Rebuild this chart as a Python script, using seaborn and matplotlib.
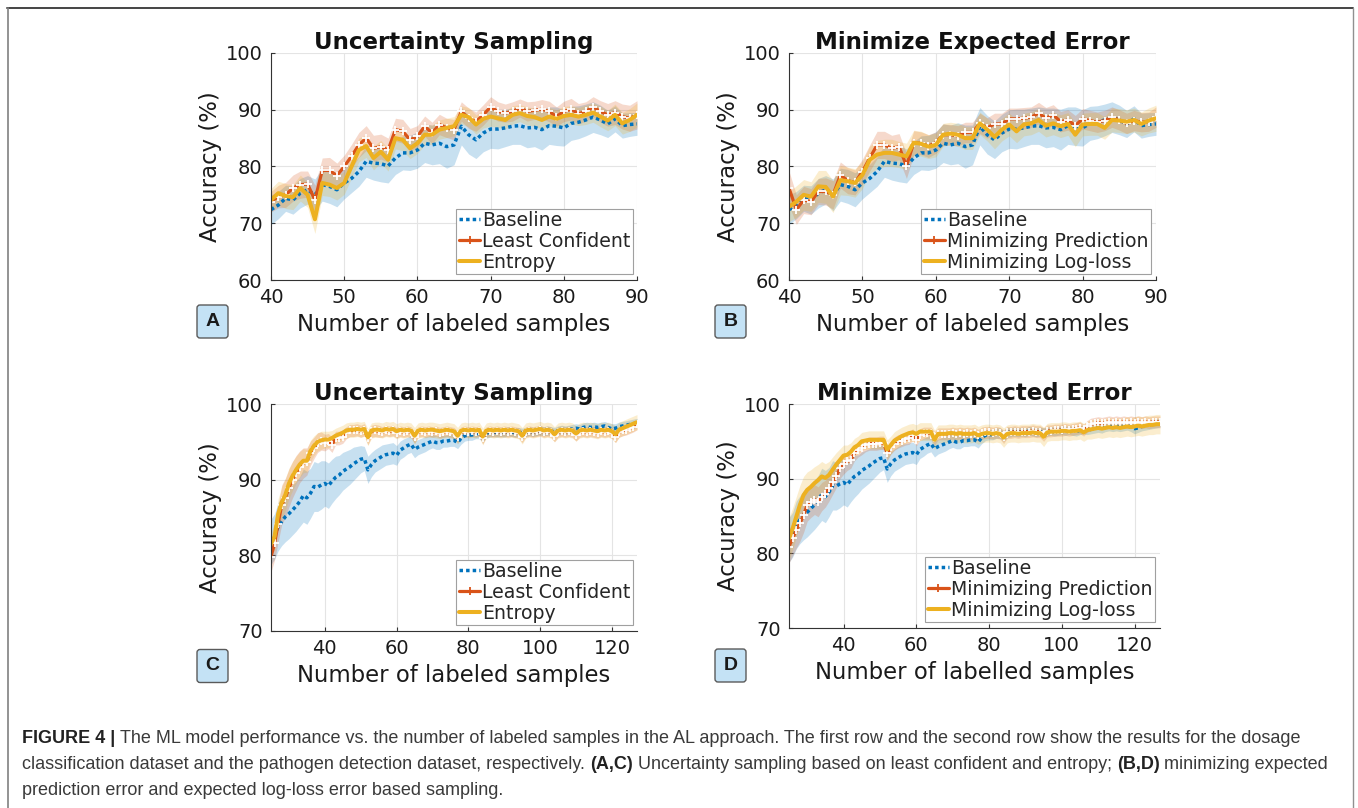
import numpy as np
import matplotlib
matplotlib.use("Agg")
import matplotlib.pyplot as plt
import seaborn as sns
from matplotlib.patches import FancyBboxPatch
from matplotlib.lines import Line2D
from matplotlib.transforms import IdentityTransform

# ---------------- data ----------------
X_AB = list(range(40, 91))
X_CD = list(range(25, 128))

# dosage dataset (panels A, B)
BASE_AB = [72.4, 73.2, 74.4, 74.1, 75.3, 75.9, 75.0, 76.8, 76.5, 75.9,
           77.1, 77.9, 79.1, 80.9, 80.6, 80.5, 80.1, 81.5, 82.4, 82.4,
           82.9, 84.1, 83.8, 84.1, 83.5, 83.8, 87.1, 85.6, 84.7, 85.9,
           86.6, 86.6, 86.8, 87.1, 87.2, 86.8, 86.9, 86.5, 87.2, 87.1,
           86.8, 87.6, 87.8, 88.2, 88.7, 88.2, 87.5, 88.4, 87.2, 87.4,
           87.5]
BASE_AB_SD = [2.6, 2.4, 2.3, 2.5, 2.6, 2.5, 2.8, 2.9, 3.0, 3.0,
              2.8, 2.5, 2.6, 2.8, 3.0, 3.2, 3.0, 2.9, 3.0, 3.1,
              3.2, 3.4, 3.5, 3.6, 3.8, 3.5, 3.3, 3.4, 3.3, 3.3,
              3.4, 3.5, 3.3, 3.2, 3.3, 3.5, 3.4, 3.6, 3.3, 3.4,
              3.2, 3.0, 2.9, 2.8, 2.7, 2.6, 2.4, 2.3, 2.2, 2.1,
              2.0]
LC_A = [73.8, 74.7, 75.0, 76.2, 76.8, 76.9, 74.1, 79.3, 79.3, 78.4,
        80.0, 81.8, 83.8, 85.0, 83.2, 83.5, 82.9, 86.5, 86.2, 84.7,
        85.3, 87.1, 85.9, 87.4, 86.8, 86.5, 89.7, 88.5, 87.9, 89.1,
        90.5, 89.7, 89.4, 89.7, 90.3, 89.7, 89.9, 90.1, 89.7, 88.8,
        89.7, 90.1, 89.3, 89.7, 90.5, 89.7, 89.1, 89.5, 88.8, 88.5,
        89.1]
LC_A_SD = [1.8, 2.0, 2.2, 2.3, 2.4, 2.3, 2.6, 2.2, 2.3, 2.2,
           2.0, 2.1, 2.2, 2.2, 2.3, 2.2, 2.1, 2.0, 2.1, 2.0,
           1.9, 1.8, 1.9, 1.8, 1.7, 1.8, 1.7, 1.8, 1.7, 1.8,
           1.8, 1.7, 1.6, 1.7, 1.6, 1.7, 1.6, 1.7, 1.8, 1.7,
           1.8, 1.9, 1.8, 1.7, 1.8, 1.9, 2.0, 2.1, 2.2, 2.3,
           2.5]
ENT_A = [74.1, 75.3, 74.8, 74.6, 76.2, 75.0, 70.7, 77.1, 76.8, 76.2,
         77.1, 80.0, 82.9, 83.6, 81.5, 82.6, 81.2, 85.0, 84.7, 83.2,
         84.1, 85.6, 85.6, 86.5, 86.8, 87.1, 89.1, 88.7, 87.4, 88.4,
         88.8, 88.5, 88.2, 89.1, 89.4, 88.9, 88.7, 88.2, 88.8, 88.4,
         88.9, 89.1, 88.8, 89.1, 89.5, 88.8, 88.1, 89.1, 87.6, 88.2,
         89.1]
ENT_A_SD = [2.0, 2.1, 2.2, 2.2, 2.3, 2.2, 2.5, 2.2, 2.1, 2.1,
            2.0, 2.0, 2.1, 2.0, 2.1, 2.0, 2.0, 1.9, 1.9, 1.8,
            1.8, 1.8, 1.7, 1.7, 1.7, 1.7, 1.6, 1.7, 1.7, 1.6,
            1.7, 1.6, 1.6, 1.6, 1.5, 1.6, 1.6, 1.6, 1.6, 1.6,
            1.7, 1.6, 1.6, 1.7, 1.7, 1.8, 1.8, 1.9, 1.9, 2.0,
            2.1]
MP_B = [76.2, 72.4, 74.1, 73.8, 75.6, 75.6, 75.0, 78.5, 77.5, 77.2,
        79.1, 81.5, 83.8, 83.8, 83.2, 83.5, 80.1, 84.2, 84.1, 83.6,
        84.2, 85.6, 85.6, 85.4, 86.0, 86.0, 87.6, 86.8, 87.5, 87.5,
        88.4, 88.4, 88.5, 88.7, 89.4, 88.5, 89.1, 87.9, 88.2, 87.2,
        88.4, 88.1, 87.8, 88.1, 88.7, 88.2, 87.6, 88.1, 87.8, 87.9,
        88.7]
MP_B_SD = [3.0, 2.6, 2.4, 2.3, 2.3, 2.4, 2.5, 2.3, 2.3, 2.2,
           2.2, 2.3, 2.4, 2.4, 2.3, 2.3, 2.2, 2.1, 2.0, 2.0,
           1.9, 1.9, 1.8, 1.8, 1.8, 1.8, 1.8, 1.8, 1.9, 1.9,
           1.9, 1.9, 1.9, 1.8, 1.9, 1.9, 1.8, 1.8, 1.8, 1.8,
           1.8, 1.8, 1.8, 1.8, 1.8, 1.8, 1.8, 1.8, 1.7, 1.7,
           1.8]
LL_B = [72.9, 73.8, 75.0, 74.7, 76.5, 76.4, 74.7, 77.6, 77.4, 77.1,
        78.5, 81.2, 82.1, 82.4, 82.4, 82.1, 81.8, 84.2, 84.0, 83.5,
        83.8, 85.6, 85.8, 85.6, 85.0, 85.0, 87.6, 86.5, 85.2, 86.5,
        87.4, 86.2, 87.4, 87.6, 88.2, 87.2, 87.6, 87.1, 87.5, 85.6,
        87.4, 87.5, 87.5, 86.8, 88.2, 88.1, 87.9, 88.2, 87.5, 88.1,
        88.5]
LL_B_SD = [2.6, 2.8, 2.7, 2.6, 2.8, 2.9, 2.8, 2.6, 2.5, 2.5,
           2.4, 2.4, 2.5, 2.4, 2.4, 2.3, 2.3, 2.2, 2.2, 2.1,
           2.1, 2.0, 2.0, 2.0, 2.0, 2.0, 2.0, 2.0, 2.1, 2.0,
           2.0, 2.0, 2.0, 2.0, 2.0, 2.0, 2.0, 2.0, 2.0, 2.1,
           2.0, 2.0, 2.0, 2.0, 2.1, 2.1, 2.1, 2.1, 2.1, 2.2,
           2.3]

# pathogen dataset (panels C, D)
BASE_CD = [81.8, 82.5, 83.8, 84.5, 85.1, 85.5, 86.0, 86.5, 87.1, 87.9,
           87.6, 88.2, 89.1, 89.0, 89.3, 89.5, 89.2, 89.8, 90.3, 90.6,
           91.1, 91.4, 91.7, 92.1, 92.4, 92.7, 92.8, 91.3, 92.0, 92.5,
           92.8, 93.1, 93.3, 93.4, 93.5, 93.2, 93.9, 94.2, 94.5, 94.7,
           94.0, 94.3, 94.5, 94.7, 94.9, 95.1, 94.9, 94.9, 95.1, 95.1,
           95.2, 95.2, 94.9, 95.5, 95.8, 95.9, 95.9, 96.1, 96.1, 95.7,
           96.2, 96.2, 96.3, 96.2, 96.3, 96.2, 96.4, 96.3, 96.2, 96.3,
           96.1, 96.3, 96.4, 96.3, 96.4, 96.5, 96.4, 96.5, 96.4, 96.3,
           96.5, 96.6, 96.5, 96.6, 96.7, 96.8, 96.7, 96.9, 97.0, 96.9,
           97.0, 96.9, 97.0, 97.1, 96.9, 96.7, 96.8, 97.0, 97.1, 97.2,
           97.3, 97.4, 97.5]
BASE_CD_SD = [3.0, 3.0, 3.2, 3.2, 3.3, 3.3, 3.3, 3.3, 3.3, 3.5,
              3.5, 3.3, 3.3, 3.2, 3.2, 3.0, 3.0, 2.9, 2.8, 2.6,
              2.5, 2.4, 2.3, 2.2, 2.0, 1.8, 1.6, 1.8, 1.6, 1.5,
              1.5, 1.5, 1.4, 1.4, 1.4, 1.3, 1.2, 1.2, 1.1, 1.1,
              1.1, 1.0, 1.0, 1.0, 0.9, 0.9, 0.9, 0.9, 0.8, 0.8,
              0.8, 0.8, 0.8, 0.8, 0.7, 0.7, 0.7, 0.7, 0.7, 0.7,
              0.7, 0.6, 0.6, 0.6, 0.6, 0.6, 0.6, 0.6, 0.6, 0.6,
              0.7, 0.6, 0.6, 0.6, 0.6, 0.6, 0.6, 0.6, 0.6, 0.6,
              0.6, 0.6, 0.6, 0.6, 0.6, 0.6, 0.6, 0.6, 0.6, 0.6,
              0.6, 0.6, 0.6, 0.6, 0.6, 0.7, 0.6, 0.6, 0.6, 0.6,
              0.6, 0.6, 0.6]
LC_C = [79.8, 81.6, 84.2, 86.7, 87.6, 88.9, 90.0, 90.9, 91.7, 92.2,
        92.4, 93.5, 94.2, 94.9, 95.1, 94.9, 95.1, 94.6, 95.5, 95.5,
        95.7, 96.2, 96.5, 96.5, 96.6, 96.4, 96.6, 95.5, 96.4, 96.5,
        96.4, 96.3, 96.5, 96.4, 96.5, 96.2, 96.4, 96.3, 96.4, 96.3,
        95.6, 96.3, 96.4, 96.3, 96.4, 96.3, 96.4, 96.2, 96.3, 96.4,
        96.3, 96.2, 95.6, 96.3, 96.4, 96.3, 96.4, 96.3, 96.4, 95.5,
        96.3, 96.4, 96.3, 96.4, 96.3, 96.4, 96.3, 96.4, 96.3, 96.2,
        95.7, 96.3, 96.4, 96.3, 96.4, 96.5, 96.3, 96.4, 96.3, 95.8,
        96.3, 96.4, 96.3, 96.4, 96.3, 95.9, 96.3, 96.4, 96.3, 96.4,
        96.3, 96.2, 96.4, 96.3, 96.4, 96.2, 95.7, 96.3, 96.5, 96.6,
        96.8, 97.0, 97.3]
LC_C_SD = [2.0, 2.2, 2.4, 2.6, 2.6, 2.5, 2.4, 2.3, 2.1, 2.0,
           1.8, 1.6, 1.4, 1.3, 1.2, 1.1, 1.0, 1.0, 0.9, 0.9,
           0.9, 0.8, 0.8, 0.8, 0.8, 0.8, 0.8, 0.9, 0.8, 0.8,
           0.8, 0.7, 0.7, 0.7, 0.7, 0.7, 0.7, 0.7, 0.7, 0.7,
           0.8, 0.7, 0.7, 0.7, 0.7, 0.7, 0.7, 0.7, 0.7, 0.7,
           0.7, 0.7, 0.8, 0.7, 0.7, 0.7, 0.7, 0.7, 0.7, 0.8,
           0.7, 0.7, 0.7, 0.7, 0.7, 0.7, 0.7, 0.7, 0.7, 0.7,
           0.8, 0.7, 0.7, 0.7, 0.7, 0.7, 0.7, 0.7, 0.7, 0.8,
           0.7, 0.7, 0.7, 0.7, 0.7, 0.8, 0.7, 0.7, 0.7, 0.7,
           0.7, 0.7, 0.7, 0.7, 0.7, 0.7, 0.8, 0.7, 0.7, 0.7,
           0.7, 0.7, 0.7]
ENT_C = [81.5, 82.5, 85.5, 87.0, 88.0, 89.5, 90.5, 91.3, 92.0, 92.5,
         92.5, 93.8, 94.5, 95.0, 95.2, 95.3, 95.3, 95.5, 95.8, 96.0,
         96.2, 96.5, 96.6, 96.6, 96.7, 96.6, 96.7, 95.6, 96.5, 96.6,
         96.6, 96.5, 96.7, 96.6, 96.7, 96.4, 96.6, 96.5, 96.6, 96.5,
         95.8, 96.5, 96.6, 96.5, 96.6, 96.6, 96.5, 96.4, 96.5, 96.6,
         96.5, 96.4, 95.8, 96.5, 96.6, 96.5, 96.6, 96.5, 96.6, 95.7,
         96.5, 96.6, 96.5, 96.6, 96.5, 96.6, 96.5, 96.6, 96.5, 96.4,
         95.8, 96.5, 96.6, 96.5, 96.6, 96.7, 96.5, 96.6, 96.5, 96.0,
         96.5, 96.6, 96.5, 96.6, 96.5, 96.1, 96.5, 96.6, 96.5, 96.6,
         96.5, 96.4, 96.6, 96.5, 96.6, 96.4, 96.0, 96.6, 96.8, 97.0,
         97.2, 97.4, 97.6]
ENT_C_SD = [1.5, 1.8, 2.0, 2.1, 2.1, 2.0, 1.9, 1.8, 1.7, 1.6,
            1.5, 1.4, 1.3, 1.2, 1.2, 1.1, 1.1, 1.0, 1.0, 1.0,
            1.0, 1.0, 1.0, 1.0, 1.0, 1.0, 1.0, 1.1, 1.0, 1.0,
            1.0, 1.0, 1.0, 1.0, 1.0, 1.0, 1.0, 1.0, 1.0, 1.0,
            1.1, 1.0, 1.0, 1.0, 1.0, 1.0, 1.0, 1.0, 1.0, 1.0,
            1.0, 1.0, 1.1, 1.0, 1.0, 1.0, 1.0, 1.0, 1.0, 1.1,
            1.0, 1.0, 1.0, 1.0, 1.0, 1.0, 1.0, 1.0, 1.0, 1.0,
            1.1, 1.0, 1.0, 1.0, 1.0, 1.0, 1.0, 1.0, 1.0, 1.0,
            1.0, 1.0, 1.0, 1.0, 1.0, 1.0, 1.0, 1.0, 1.0, 1.0,
            1.0, 1.0, 1.0, 1.0, 1.0, 1.0, 1.1, 1.0, 1.0, 1.0,
            1.0, 1.0, 1.0]
MP_D = [80.9, 82.0, 83.1, 84.0, 85.1, 86.5, 86.9, 87.2, 86.9, 87.6,
        88.0, 88.7, 89.5, 90.3, 91.4, 91.9, 92.3, 92.5, 93.4, 93.9,
        94.1, 94.5, 94.7, 94.7, 94.7, 94.8, 94.8, 93.4, 94.2, 94.7,
        95.0, 95.1, 95.3, 95.4, 95.9, 95.2, 95.9, 96.1, 96.1, 96.1,
        95.4, 96.0, 96.0, 96.0, 96.0, 96.1, 96.0, 96.1, 96.0, 96.1,
        96.0, 96.1, 95.8, 96.1, 96.2, 96.2, 96.1, 96.2, 96.1, 95.6,
        96.2, 96.2, 96.3, 96.2, 96.3, 96.3, 96.3, 96.4, 96.3, 96.3,
        95.9, 96.4, 96.4, 96.5, 96.5, 96.5, 96.6, 96.5, 96.6, 96.7,
        96.8, 96.5, 97.0, 97.3, 97.4, 97.5, 97.4, 97.5, 97.6, 97.5,
        97.6, 97.5, 97.6, 97.5, 97.6, 97.5, 97.6, 97.5, 97.6, 97.5,
        97.6, 97.6, 97.6]
MP_D_SD = [2.2, 2.3, 2.4, 2.4, 2.3, 2.2, 2.1, 2.0, 2.0, 1.9,
           1.8, 1.7, 1.6, 1.5, 1.4, 1.3, 1.2, 1.1, 1.0, 1.0,
           0.9, 0.9, 0.9, 0.9, 0.9, 0.9, 0.9, 1.0, 0.9, 0.9,
           0.9, 0.8, 0.8, 0.8, 0.8, 0.8, 0.8, 0.8, 0.8, 0.8,
           0.9, 0.8, 0.8, 0.8, 0.8, 0.8, 0.8, 0.8, 0.8, 0.8,
           0.8, 0.8, 0.8, 0.8, 0.8, 0.8, 0.8, 0.8, 0.8, 0.9,
           0.8, 0.8, 0.8, 0.8, 0.8, 0.8, 0.8, 0.8, 0.8, 0.8,
           0.9, 0.8, 0.8, 0.8, 0.8, 0.8, 0.8, 0.8, 0.8, 0.8,
           0.8, 0.8, 0.8, 0.8, 0.8, 0.8, 0.8, 0.8, 0.8, 0.8,
           0.8, 0.8, 0.8, 0.8, 0.8, 0.8, 0.8, 0.8, 0.8, 0.8,
           0.8, 0.8, 0.8]
LL_D = [82.0, 83.3, 84.9, 86.5, 87.8, 88.5, 88.9, 89.4, 89.8, 90.3,
        90.1, 90.5, 91.2, 91.9, 92.5, 93.1, 93.2, 93.6, 94.2, 94.5,
        95.0, 95.1, 95.2, 95.2, 95.2, 95.2, 95.2, 93.9, 94.5, 95.1,
        95.4, 95.7, 95.9, 96.1, 96.2, 96.0, 96.3, 96.3, 96.3, 96.3,
        95.2, 96.0, 96.0, 96.0, 96.1, 96.1, 96.0, 96.1, 96.0, 96.0,
        96.0, 96.1, 95.8, 96.0, 96.1, 96.1, 96.0, 96.1, 96.0, 95.5,
        96.0, 96.1, 96.1, 96.0, 96.1, 96.1, 96.1, 96.2, 96.1, 96.1,
        95.6, 96.2, 96.3, 96.3, 96.3, 96.4, 96.4, 96.3, 96.4, 96.4,
        96.5, 96.2, 96.5, 96.6, 96.7, 96.8, 96.7, 96.8, 96.9, 96.8,
        96.9, 96.8, 96.9, 97.0, 96.9, 97.0, 97.1, 97.0, 97.1, 97.2,
        97.2, 97.3, 97.3]
LL_D_SD = [2.8, 2.8, 2.7, 2.6, 2.5, 2.4, 2.3, 2.2, 2.1, 2.0,
           1.9, 1.8, 1.7, 1.6, 1.5, 1.4, 1.3, 1.2, 1.2, 1.2,
           1.2, 1.2, 1.2, 1.2, 1.2, 1.2, 1.2, 1.3, 1.2, 1.2,
           1.2, 1.2, 1.2, 1.2, 1.2, 1.2, 1.2, 1.2, 1.2, 1.2,
           1.3, 1.2, 1.2, 1.2, 1.2, 1.2, 1.2, 1.2, 1.2, 1.2,
           1.2, 1.2, 1.2, 1.2, 1.2, 1.2, 1.2, 1.2, 1.2, 1.3,
           1.2, 1.2, 1.2, 1.2, 1.2, 1.2, 1.2, 1.2, 1.2, 1.2,
           1.3, 1.2, 1.2, 1.2, 1.2, 1.2, 1.2, 1.2, 1.2, 1.2,
           1.2, 1.2, 1.2, 1.3, 1.3, 1.3, 1.3, 1.3, 1.3, 1.3,
           1.3, 1.3, 1.3, 1.3, 1.3, 1.3, 1.3, 1.3, 1.3, 1.3,
           1.3, 1.3, 1.3]

TITLES = ["Uncertainty Sampling", "Minimize Expected Error",
          "Uncertainty Sampling", "Minimize Expected Error"]
XLABELS = ["Number of labeled samples", "Number of labeled samples",
           "Number of labeled samples", "Number of labelled samples"]
LEG_US = ["Baseline", "Least Confident", "Entropy"]
LEG_MEE = ["Baseline", "Minimizing Prediction", "Minimizing Log-loss"]
PANEL_LETTERS = ["A", "B", "C", "D"]

CAPTION = [
    [("FIGURE 4 |", True),
     ("The ML model performance vs. the number of labeled samples in the AL approach. "
      "The first row and the second row show the results for the dosage", False)],
    [("classification dataset and the pathogen detection dataset, respectively.", False),
     ("(A,C)", True),
     ("Uncertainty sampling based on least confident and entropy;", False),
     ("(B,D)", True),
     ("minimizing expected", False)],
    [("prediction error and expected log-loss error based sampling.", False)],
]

# ---------------- style ----------------
sns.set_style("white")
plt.rcParams['font.family'] = ['DejaVu Sans']

W, H = 1358, 808
fig = plt.figure(figsize=(W / 100, H / 100), dpi=100)
fig.patch.set_facecolor('white')

COLORS = ['#0072BD', '#D95319', '#EDB120']
STYLES = [
    dict(linewidth=2.5, linestyle=(0, (1, 0.9))),
    dict(linewidth=2.3, linestyle='-', marker='+', markersize=6, markeredgewidth=1.3),
    dict(linewidth=2.9, linestyle='-'),
]


def px_axes(l, t, r, b):
    return fig.add_axes([l / W, 1 - b / H, (r - l) / W, (b - t) / H])


def draw_panel(ax, x, series, sds, labels, title, xlabel, xlim, xticks, ylim, yticks, leg_rb):
    x = np.asarray(x)
    for vals, sd, col in zip(series, sds, COLORS):
        v = np.asarray(vals)
        s = np.asarray(sd)
        ax.fill_between(x, v - s, v + s, color=col, alpha=0.22, linewidth=0)
    for vals, col, st in zip(series, COLORS, STYLES):
        sns.lineplot(x=x, y=np.asarray(vals), ax=ax, color=col, **st)
    ax.set_xlim(*xlim)
    ax.set_ylim(*ylim)
    ax.set_xticks(xticks)
    ax.set_yticks(yticks)
    ax.grid(True, color='#e4e4e4', linewidth=0.8)
    ax.set_axisbelow(True)
    for sp in ['top', 'right']:
        ax.spines[sp].set_visible(False)
    for sp in ['left', 'bottom']:
        ax.spines[sp].set_color('#333333')
        ax.spines[sp].set_linewidth(0.8)
    ax.tick_params(direction='in', length=3, width=0.8, color='#333333',
                   labelsize=14, labelcolor='#1a1a1a', pad=6, left=True, bottom=True)
    ax.set_title(title, fontsize=16.5, fontweight='bold', pad=3, color='#111111')
    ax.set_xlabel(xlabel, fontsize=16.4, labelpad=4, color='#1a1a1a')
    ax.set_ylabel("Accuracy (%)", fontsize=16.4, labelpad=3, color='#1a1a1a')
    handles = [Line2D([], [], color=c, **st) for c, st in zip(COLORS, STYLES)]
    pos = ax.get_position()
    bx = (leg_rb[0] / W - pos.x0) / pos.width
    by = ((1 - leg_rb[1] / H) - pos.y0) / pos.height
    leg = ax.legend(handles, labels, loc='lower right', bbox_to_anchor=(bx, by),
                    borderaxespad=0, fontsize=13.6, frameon=True, fancybox=False,
                    framealpha=1, edgecolor='#a0a0a0', handlelength=1.15,
                    handletextpad=0.1, labelspacing=0.1, borderpad=0.12,
                    numpoints=1)
    leg.get_frame().set_linewidth(0.8)


axA = px_axes(271, 53, 637, 280)
axB = px_axes(789, 53, 1156, 280)
axC = px_axes(271, 404, 637, 631)
axD = px_axes(789, 404, 1160, 628)

draw_panel(axA, X_AB, [BASE_AB, LC_A, ENT_A], [BASE_AB_SD, LC_A_SD, ENT_A_SD],
           LEG_US, TITLES[0], XLABELS[0], (40, 90), [40, 50, 60, 70, 80, 90],
           (60, 100), [60, 70, 80, 90, 100], (633, 274))
draw_panel(axB, X_AB, [BASE_AB, MP_B, LL_B], [BASE_AB_SD, MP_B_SD, LL_B_SD],
           LEG_MEE, TITLES[1], XLABELS[1], (40, 90), [40, 50, 60, 70, 80, 90],
           (60, 100), [60, 70, 80, 90, 100], (1151, 274))
draw_panel(axC, X_CD, [BASE_CD, LC_C, ENT_C], [BASE_CD_SD, LC_C_SD, ENT_C_SD],
           LEG_US, TITLES[2], XLABELS[2], (25, 127), [40, 60, 80, 100, 120],
           (70, 100), [70, 80, 90, 100], (633, 625))
draw_panel(axD, X_CD, [BASE_CD, MP_D, LL_D], [BASE_CD_SD, MP_D_SD, LL_D_SD],
           LEG_MEE, TITLES[3], XLABELS[3], (25, 127), [40, 60, 80, 100, 120],
           (70, 100), [70, 80, 90, 100], (1155, 622))

# panel letter boxes (pixel coords, top-left origin)
ident = IdentityTransform()
for letter, (cx, cy) in zip(PANEL_LETTERS, [(212.5, 321.5), (730.5, 321.5),
                                            (212.5, 666), (730.5, 665.5)]):
    bw, bh = 31, 33
    box = FancyBboxPatch((cx - bw / 2, H - cy - bh / 2), bw, bh,
                         boxstyle='round,pad=0,rounding_size=3',
                         facecolor='#c4e2f5', edgecolor='#5a5a5a', linewidth=1.0,
                         transform=ident)
    fig.add_artist(box)
    fig.text(cx / W, 1 - cy / H, letter, ha='center', va='center',
             fontsize=14, fontweight='bold', family='Liberation Sans', color='#1a1a1a')

# figure frame
fig.add_artist(Line2D([7, 1353], [H - 8, H - 8], color='#444444', linewidth=1.4, transform=ident))
fig.add_artist(Line2D([7.5, 7.5], [0, H - 8], color='#808080', linewidth=1.2, transform=ident))
fig.add_artist(Line2D([1353, 1353], [0, H - 8], color='#909090', linewidth=1.0, transform=ident))

# caption
FS = 13.0
renderer = fig.canvas.get_renderer()


def text_width(s, weight):
    t = fig.text(0, 0, s, fontsize=FS, family='Liberation Sans', fontweight=weight)
    w = t.get_window_extent(renderer).width
    t.remove()
    return w


space_w = text_width('a a', 'normal') - text_width('aa', 'normal')
for line, base in zip(CAPTION, [743, 769, 795]):
    xpos = 22
    for s, bold in line:
        t = fig.text(xpos / W, 1 - base / H, s, fontsize=FS, family='Liberation Sans',
                     fontweight='bold' if bold else 'normal',
                     color='#222222' if bold else '#3a3a3a', ha='left', va='baseline')
        xpos += t.get_window_extent(renderer).width + space_w

fig.savefig('out.png', dpi=100, facecolor='white')
